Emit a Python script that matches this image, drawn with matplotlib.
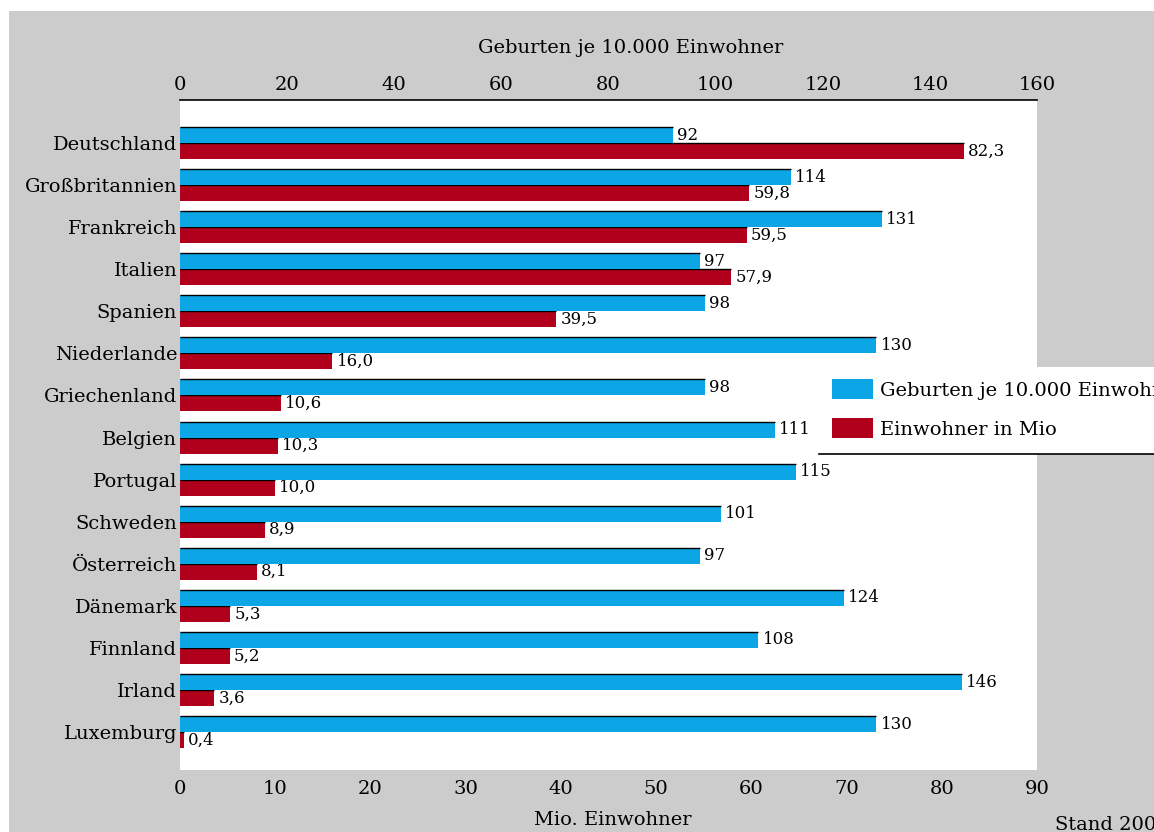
import matplotlib
matplotlib.use("Agg")
import matplotlib.pyplot as plt
from matplotlib.patches import Rectangle, Patch
from matplotlib.lines import Line2D

plt.rcParams["font.family"] = ["DejaVu Serif"]

countries = ["Deutschland", "Großbritannien", "Frankreich", "Italien", "Spanien",
             "Niederlande", "Griechenland", "Belgien", "Portugal", "Schweden",
             "Österreich", "Dänemark", "Finnland", "Irland", "Luxemburg"]
births_per_10k = [92, 114, 131, 97, 98, 130, 98, 111, 115, 101, 97, 124, 108, 146, 130]
population_mio = [82.3, 59.8, 59.5, 57.9, 39.5, 16.0, 10.6, 10.3, 10.0, 8.9, 8.1, 5.3, 5.2, 3.6, 0.4]

top_ticks = [0, 20, 40, 60, 80, 100, 120, 140, 160]
bottom_ticks = [0, 10, 20, 30, 40, 50, 60, 70, 80, 90]

BLUE = "#0ca6e6"
RED = "#b0001b"
GRAY = "#cccccc"

W, H = 1154, 832
fig = plt.figure(figsize=(W / 100, H / 100), dpi=100, facecolor=GRAY)

# white margins along top and left edge
fig.patches.append(Rectangle((0, 1 - 11 / H), 1, 11 / H, transform=fig.transFigure,
                             facecolor="white", edgecolor="none", zorder=-5))
fig.patches.append(Rectangle((0, 0), 9 / W, 1, transform=fig.transFigure,
                             facecolor="white", edgecolor="none", zorder=-5))

left, right, top, bottom = 180, 1037, 100, 770
ax = fig.add_axes([left / W, (H - bottom) / H, (right - left) / W, (bottom - top) / H])
ax.set_facecolor("white")
ax_top = ax.twiny()

pos = list(range(len(countries)))
bh = 0.38

# population bars (bottom scale)
ax.barh([p + bh / 2 for p in pos], population_mio, height=bh, color=RED, edgecolor="none")
ax.hlines([p for p in pos], 0, population_mio, color="black", lw=1.0)
# births bars (top scale)
ax_top.barh([p - bh / 2 for p in pos], births_per_10k, height=bh, color=BLUE, edgecolor="none")
ax_top.hlines([p - bh for p in pos], 0, births_per_10k, color="black", lw=1.0)

for p, v in zip(pos, population_mio):
    ax.annotate(f"{v:.1f}".replace(".", ","), (v, p + bh / 2), xytext=(3, 0),
                textcoords="offset points", va="center", ha="left", fontsize=12)
for p, v in zip(pos, births_per_10k):
    ax_top.annotate(f"{v}", (v, p - bh / 2), xytext=(3, 0),
                    textcoords="offset points", va="center", ha="left", fontsize=12)

ax.set_xlim(0, 90)
ax_top.set_xlim(0, 160)
ax.set_ylim(14.90, -1.022)

ax.set_yticks(pos)
ax.set_yticklabels(countries, fontsize=14)
ax.set_xticks(bottom_ticks)
ax.set_xticklabels([str(t) for t in bottom_ticks], fontsize=14)
ax_top.set_xticks(top_ticks)
ax_top.set_xticklabels([str(t) for t in top_ticks], fontsize=14)

ax.tick_params(axis="both", length=0)
ax.tick_params(axis="x", pad=7)
ax.tick_params(axis="y", pad=2)
ax_top.tick_params(axis="x", length=0, pad=4)

for a in (ax, ax_top):
    for s in ("left", "right", "bottom"):
        a.spines[s].set_visible(False)
ax.spines["top"].set_visible(False)
ax_top.spines["top"].set_color("black")
ax_top.spines["top"].set_linewidth(1.2)

fig.text(631 / W, 1 - 48 / H, "Geburten je 10.000 Einwohner", ha="center", va="center", fontsize=14)
fig.text(613 / W, 1 - 820 / H, "Mio. Einwohner", ha="center", va="center", fontsize=14)
fig.text(1055 / W, 1 - 816 / H, "Stand 2008", ha="left", va="top", fontsize=14)

# legend panel
fig.patches.append(Rectangle((819 / W, 1 - 454 / H), (W - 819) / W, 87 / H,
                             transform=fig.transFigure, facecolor="white",
                             edgecolor="none", zorder=2))
fig.lines.append(Line2D([819 / W, 1], [1 - 454 / H] * 2, transform=fig.transFigure,
                        color="black", lw=1.2, zorder=3))
handles = [Patch(facecolor=BLUE, edgecolor="none"), Patch(facecolor=RED, edgecolor="none")]
leg = fig.legend(handles, ["Geburten je 10.000 Einwohner", "Einwohner in Mio"],
                 loc="upper left", bbox_to_anchor=(832 / W, 1 - 379 / H),
                 bbox_transform=fig.transFigure, frameon=False, fontsize=14,
                 handlelength=2.1, handleheight=1.2, handletextpad=0.35,
                 labelspacing=0.95, borderpad=0, borderaxespad=0)
leg.set_zorder(4)

fig.savefig("out.png", dpi=100, facecolor=GRAY)
